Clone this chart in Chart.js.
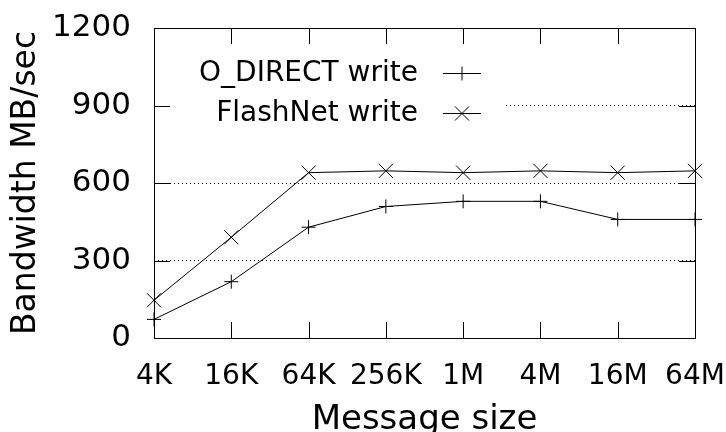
<!DOCTYPE html>
<html>
<head>
<meta charset="utf-8">
<script src="https://cdn.jsdelivr.net/npm/chart.js@4/dist/chart.umd.min.js"></script>
<style>
  html, body { margin: 0; padding: 0; background: #fff; }
  #chart { display: block; }
</style>
</head>
<body>
<canvas id="chart" width="726" height="432"></canvas>
<script>
// Dane wykresu
const sizes = ["4K", "16K", "64K", "256K", "1M", "4M", "16M", "64M"];
const odirectWrite = [72, 218, 429, 509, 529, 529, 459, 459];
const flashnetWrite = [146, 390, 640, 647, 640, 647, 640, 647];
const yTicks = [0, 300, 600, 900, 1200];

const FONT = "'DejaVu Sans', sans-serif";
const TICK_LEN = 16;

// Ramka, wewnętrzne kreski podziałki i legenda w stylu gnuplota
const gnuplotFrame = {
  id: "gnuplotFrame",
  beforeDatasetsDraw(chart) {
    const { ctx, chartArea: a } = chart;
    // tło legendy zasłania siatkę
    ctx.save();
    ctx.fillStyle = "#fff";
    ctx.fillRect(a.left + 1, 45, 502 - a.left, 90);
    ctx.restore();
  },
  afterDatasetsDraw(chart) {
    const { ctx, chartArea: a, scales } = chart;
    const x = scales.x;
    const y = scales.y;
    ctx.save();
    ctx.strokeStyle = "#000";
    ctx.lineWidth = 1;
    ctx.beginPath();
    // kreski osi Y (lewa i prawa strona)
    y.ticks.forEach((t) => {
      const py = Math.round(y.getPixelForValue(t.value)) + 0.5;
      ctx.moveTo(a.left, py);
      ctx.lineTo(a.left + TICK_LEN, py);
      ctx.moveTo(a.right, py);
      ctx.lineTo(a.right - TICK_LEN, py);
    });
    // kreski osi X (dół i góra)
    sizes.forEach((_, i) => {
      const px = Math.round(x.getPixelForValue(i)) + 0.5;
      ctx.moveTo(px, a.bottom);
      ctx.lineTo(px, a.bottom - TICK_LEN);
      ctx.moveTo(px, a.top);
      ctx.lineTo(px, a.top + TICK_LEN);
    });
    ctx.stroke();
    ctx.strokeRect(
      Math.round(a.left) + 0.5,
      Math.round(a.top) + 0.5,
      Math.round(a.right - a.left),
      Math.round(a.bottom - a.top)
    );

    // legenda
    ctx.font = "28px " + FONT;
    ctx.fillStyle = "#000";
    ctx.textAlign = "right";
    ctx.textBaseline = "middle";
    chart.data.datasets.forEach((ds, i) => {
      const ly = 73 + i * 40;
      ctx.fillText(ds.label, 418, ly + 1);
      ctx.beginPath();
      ctx.moveTo(443, ly + 0.5);
      ctx.lineTo(481, ly + 0.5);
      ctx.stroke();
      Chart.helpers.drawPoint(
        ctx,
        {
          pointStyle: ds.pointStyle,
          radius: ds.pointRadius,
          rotation: 0,
          borderWidth: 1,
        },
        462,
        ly + 0.5
      );
    });
    ctx.restore();
  },
};

// zerowanie dodatkowych marginesów skali (etykiety mogą wystawać)
function noScalePadding(s) {
  s.paddingTop = 0;
  s.paddingBottom = 0;
  s.paddingLeft = 0;
  s.paddingRight = 0;
}

const ctx = document.getElementById("chart").getContext("2d");

const chart = new Chart(ctx, {
  type: "line",
  data: {
    labels: sizes,
    datasets: [
      {
        label: "O_DIRECT write",
        data: odirectWrite,
        borderColor: "#000",
        borderWidth: 1,
        pointStyle: "cross",
        pointRadius: 7,
        pointBorderColor: "#000",
        pointBorderWidth: 1,
        tension: 0,
        fill: false,
        clip: false,
      },
      {
        label: "FlashNet write",
        data: flashnetWrite,
        borderColor: "#000",
        borderWidth: 1,
        pointStyle: "crossRot",
        pointRadius: 10,
        pointBorderColor: "#000",
        pointBorderWidth: 1,
        tension: 0,
        fill: false,
        clip: false,
      },
    ],
  },
  options: {
    responsive: false,
    animation: false,
    devicePixelRatio: 1,
    layout: {
      padding: { top: 28, right: 31, bottom: 0, left: 0 },
    },
    plugins: {
      legend: { display: false },
      tooltip: { enabled: false },
    },
    scales: {
      x: {
        type: "category",
        offset: false,
        grid: { display: false, drawTicks: false },
        border: { display: false },
        ticks: {
          color: "#000",
          font: { family: FONT, size: 28 },
          padding: 22,
          maxRotation: 0,
          minRotation: 0,
          autoSkip: false,
        },
        title: {
          display: true,
          text: "Message size",
          color: "#000",
          font: { family: FONT, size: 34, lineHeight: 0.8 },
          padding: { top: 0, bottom: -2 },
        },
        afterFit: (s) => {
          s.height = 94;
          noScalePadding(s);
        },
      },
      y: {
        min: 0,
        max: 1200,
        afterBuildTicks: (s) => {
          s.ticks = yTicks.map((v) => ({ value: v }));
        },
        grid: {
          drawTicks: false,
          lineWidth: 1,
          color: (c) =>
            c.tick && (c.tick.value === 0 || c.tick.value === 1200)
              ? "rgba(0,0,0,0)"
              : "#000",
        },
        border: { display: false, dash: [1, 3] },
        ticks: {
          color: "#000",
          font: { family: FONT, size: 31 },
          padding: 23,
          callback: (v) => String(v),
        },
        title: {
          display: true,
          text: "Bandwidth MB/sec",
          color: "#000",
          font: { family: FONT, size: 33 },
          padding: { top: 7, bottom: 0 },
        },
        afterFit: (s) => {
          s.width = 154;
          noScalePadding(s);
        },
      },
    },
  },
  plugins: [gnuplotFrame],
});
</script>
</body>
</html>
